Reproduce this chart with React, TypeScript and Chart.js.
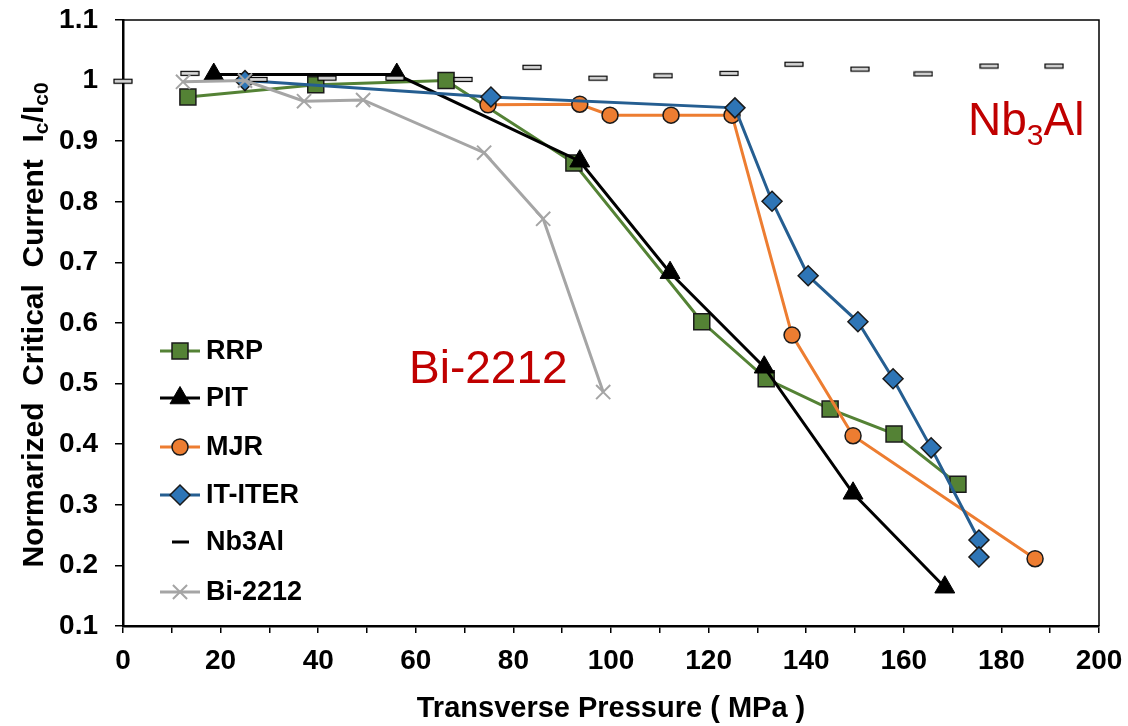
import React, { useEffect, useRef } from "react";
import { Chart, registerables } from "chart.js";
import { drawPoint } from "chart.js/helpers";

Chart.register(...registerables);

const FONT = "'Liberation Sans', Arial, sans-serif";

const rrpX = [13.3, 39.5, 66.2, 92.4, 118.6, 131.8, 144.9, 158.0, 171.1];
const rrpY = [0.973, 0.993, 1.0, 0.864, 0.602, 0.508, 0.458, 0.417, 0.334];
const pitX = [18.6, 56.1, 93.6, 112.1, 131.4, 149.6, 168.4];
const pitY = [1.01, 1.01, 0.867, 0.683, 0.527, 0.319, 0.164];
const mjrX = [74.8, 93.6, 99.8, 112.3, 124.8, 137.1, 149.6, 186.9];
const mjrY = [0.96, 0.961, 0.943, 0.943, 0.943, 0.58, 0.414, 0.211];
const iterX = [25, 75.4, 125.4, 133.0, 140.4, 150.6, 157.8, 165.6, 175.4, 175.4];
const iterY = [1.0, 0.973, 0.955, 0.801, 0.678, 0.602, 0.508, 0.394, 0.242, 0.214];
const nb3alX = [0, 13.7, 27.7, 41.8, 55.7, 69.7, 83.8, 97.3, 110.7, 124.2, 137.5, 151.0, 164.0, 177.5, 190.8];
const nb3alY = [0.999, 1.012, 1.002, 1.004, 1.004, 1.002, 1.022, 1.004, 1.008, 1.012, 1.027, 1.019, 1.011, 1.024, 1.024];
const biX = [12.3, 25, 37.1, 49.2, 74.0, 86.1, 98.4];
const biY = [0.998, 1.0, 0.966, 0.968, 0.881, 0.772, 0.486];

const seriesNames = ["RRP", "PIT", "MJR", "IT-ITER", "Nb3Al", "Bi-2212"];
const xTitle = "Transverse Pressure ( MPa )";
const yTitleParts = [
  { t: "Normarized  Critical  Current  I", sub: false },
  { t: "c", sub: true },
  { t: "/I", sub: false },
  { t: "c0", sub: true },
];

const pts = (xs: number[], ys: number[]) => xs.map((x, i) => ({ x, y: ys[i] }));

export default function App() {
  const ref = useRef<HTMLCanvasElement>(null);
  useEffect(() => {
    const dash = document.createElement("canvas");
    dash.width = 20;
    dash.height = 7;
    const dctx = dash.getContext("2d")!;
    dctx.fillStyle = "#D9D9D9";
    dctx.fillRect(1, 1.5, 18, 4);
    dctx.strokeStyle = "#000";
    dctx.lineWidth = 1.2;
    dctx.strokeRect(1, 1.5, 18, 4);

    const datasets: any[] = [
      {
        label: seriesNames[0], data: pts(rrpX, rrpY), borderColor: "#548235", borderWidth: 3,
        pointStyle: "rect", pointRadius: 11.3, pointBackgroundColor: "#548235", pointBorderColor: "#1a1a1a", pointBorderWidth: 1.5, order: 6,
      },
      {
        label: seriesNames[1], data: pts(pitX, pitY), borderColor: "#000000", borderWidth: 3,
        pointStyle: "triangle", pointRadius: 11.5, pointBackgroundColor: "#000", pointBorderColor: "#000", pointBorderWidth: 1, order: 5,
      },
      {
        label: seriesNames[2], data: pts(mjrX, mjrY), borderColor: "#ED7D31", borderWidth: 3,
        pointStyle: "circle", pointRadius: 8, pointBackgroundColor: "#ED7D31", pointBorderColor: "#1a1a1a", pointBorderWidth: 1.5, order: 4,
      },
      {
        label: seriesNames[3], data: pts(iterX, iterY), borderColor: "#255E91", borderWidth: 3,
        pointStyle: "rectRot", pointRadius: 10, pointBackgroundColor: "#2E75B6", pointBorderColor: "#1a1a1a", pointBorderWidth: 1.5, order: 3,
      },
      {
        label: seriesNames[4], data: pts(nb3alX, nb3alY), showLine: false,
        pointStyle: dash, pointRadius: 10, order: 2,
      },
      {
        label: seriesNames[5], data: pts(biX, biY), borderColor: "#A5A5A5", borderWidth: 3,
        pointStyle: "crossRot", pointRadius: 10, pointBackgroundColor: "#A5A5A5", pointBorderColor: "#A5A5A5", pointBorderWidth: 2, order: 1,
      },
    ];
    datasets.forEach((d) => { d.clip = false; d.tension = 0; d.fill = false; d.pointHoverRadius = d.pointRadius; });

    const annot = {
      id: "annot",
      afterDraw(chart: any) {
        const ctx = chart.ctx as CanvasRenderingContext2D;
        const a = chart.chartArea;
        ctx.save();
        // top/right frame
        ctx.strokeStyle = "#000";
        ctx.lineWidth = 1.5;
        ctx.beginPath();
        ctx.moveTo(a.left, a.top);
        ctx.lineTo(a.right, a.top);
        ctx.lineTo(a.right, a.bottom);
        ctx.stroke();

        // x title
        ctx.fillStyle = "#000";
        ctx.font = `bold 29px ${FONT}`;
        ctx.textAlign = "center";
        ctx.textBaseline = "alphabetic";
        ctx.fillText(xTitle, (a.left + a.right) / 2, 717);

        // y title with subscripts
        ctx.save();
        ctx.translate(43, 325);
        ctx.rotate(-Math.PI / 2);
        ctx.textAlign = "left";
        const big = `bold 30px ${FONT}`;
        const small = `bold 21px ${FONT}`;
        let total = 0;
        for (const p of yTitleParts) {
          ctx.font = p.sub ? small : big;
          total += ctx.measureText(p.t).width;
        }
        let cx = -total / 2;
        for (const p of yTitleParts) {
          ctx.font = p.sub ? small : big;
          ctx.fillText(p.t, cx, p.sub ? 5 : 0);
          cx += ctx.measureText(p.t).width;
        }
        ctx.restore();

        // annotations
        ctx.fillStyle = "#C00000";
        ctx.textAlign = "left";
        ctx.font = `46px ${FONT}`;
        ctx.fillText("Bi-2212", 409, 383);
        let nx = 968;
        ctx.fillText("Nb", nx, 135);
        nx += ctx.measureText("Nb").width;
        ctx.font = `30px ${FONT}`;
        ctx.fillText("3", nx, 145);
        nx += ctx.measureText("3").width;
        ctx.font = `46px ${FONT}`;
        ctx.fillText("Al", nx, 135);

        // legend
        const ys = [351, 398, 447, 495, 542, 592];
        chart.data.datasets.forEach((d: any, i: number) => {
          const y = ys[i];
          if (d.showLine !== false) {
            ctx.strokeStyle = d.borderColor;
            ctx.lineWidth = 3;
            ctx.beginPath();
            ctx.moveTo(160, y);
            ctx.lineTo(200, y);
            ctx.stroke();
            ctx.fillStyle = d.pointBackgroundColor;
            ctx.strokeStyle = d.pointBorderColor;
            ctx.lineWidth = d.pointBorderWidth;
            drawPoint(ctx, { pointStyle: d.pointStyle, rotation: 0, radius: d.pointRadius, borderWidth: d.pointBorderWidth } as any, 180, y);
          } else {
            ctx.fillStyle = "#000";
            ctx.fillRect(172, y - 1.5, 17, 3);
          }
          ctx.fillStyle = "#000";
          ctx.font = `bold 27px ${FONT}`;
          ctx.textAlign = "left";
          ctx.textBaseline = "middle";
          ctx.fillText(d.label, 206, y + 1);
          ctx.textBaseline = "alphabetic";
        });
        ctx.restore();
      },
    };

    const zeroPad = (s: any) => {
      s.paddingTop = 0;
      s.paddingBottom = 0;
      s.paddingLeft = 0;
      s.paddingRight = 0;
    };

    const tickFont = { family: FONT, size: 28, weight: "bold" as const };
    const chart = new Chart(ref.current!, {
      type: "line",
      data: { datasets },
      options: {
        animation: false,
        responsive: false,
        devicePixelRatio: 1,
        layout: { padding: { top: 20, right: 29, left: 0, bottom: 0 } },
        plugins: { legend: { display: false }, tooltip: { enabled: false } },
        scales: {
          x: {
            type: "linear",
            min: 0,
            max: 200,
            ticks: {
              stepSize: 10,
              autoSkip: false,
              maxRotation: 0,
              color: "#000",
              font: tickFont,
              padding: 11,
              callback: (v: any) => (Math.round(v) % 20 === 0 ? String(Math.round(v)) : ""),
            },
            grid: { drawOnChartArea: false, drawTicks: true, tickLength: 7, color: "#000", lineWidth: 1.5 },
            border: { color: "#000", width: 2.5 },
            afterFit: (s: any) => { s.height = 100; zeroPad(s); },
          },
          y: {
            type: "linear",
            min: 0.1,
            max: 1.1,
            ticks: {
              stepSize: 0.1,
              color: "#000",
              font: tickFont,
              padding: 17,
              callback: (v: any) => String(Math.round(v * 10) / 10),
            },
            grid: { drawOnChartArea: false, drawTicks: true, tickLength: 8, color: "#000", lineWidth: 1.5 },
            border: { color: "#000", width: 2.5 },
            afterFit: (s: any) => { s.width = 123; zeroPad(s); },
          },
        },
      },
      plugins: [annot],
    } as any);
    return () => chart.destroy();
  }, []);
  return (
    <div style={{ position: "fixed", left: 0, top: 0, width: 1128, height: 726, background: "#fff" }}>
      <canvas ref={ref} width={1128} height={726} style={{ display: "block", width: 1128, height: 726 }} />
    </div>
  );
}
